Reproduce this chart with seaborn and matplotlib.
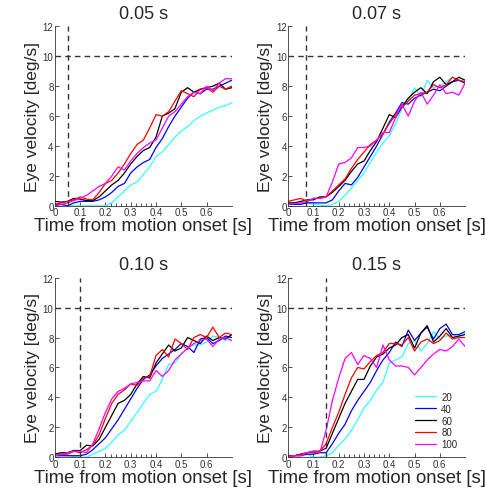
import numpy as np
import pandas as pd
import seaborn as sns
import matplotlib.pyplot as plt

# time grid [s]
t = [0, .025, .05, .075, .1, .125, .15, .175, .2, .225, .25, .275, .3, .325, .35,
     .375, .4, .425, .45, .475, .5, .525, .55, .575, .6, .625, .65, .675, .7]

contrasts = ['20', '40', '60', '80', '100']
delays = [0.05, 0.07, 0.10, 0.15]
titles = ['0.05 s', '0.07 s', '0.10 s', '0.15 s']

#Eye velocity traces, one list per contrast, per panel
p1_20 = [0, 0, 0, 0, 0, 0, 0, 0, 0, 0.2, 0.6, 1.0, 1.4, 1.6, 2.1, 2.6, 3.3, 3.6, 4.1, 4.6, 5.0, 5.3, 5.7, 6.0, 6.2, 6.4, 6.6, 6.7, 6.9]
p1_40 = [0.1, 0.1, 0.0, 0.2, 0.3, 0.3, 0.3, 0.4, 0.6, 0.9, 1.3, 1.5, 2.2, 2.6, 2.9, 3.1, 3.9, 4.5, 5.3, 6.0, 6.6, 7.2, 7.6, 7.5, 7.8, 7.8, 8.0, 8.2, 8.4]
p1_60 = [0.3, 0.25, 0.3, 0.5, 0.45, 0.35, 0.35, 0.6, 1.0, 1.4, 1.7, 2.2, 2.8, 3.3, 3.7, 3.9, 4.6, 6.0, 6.2, 6.5, 7.6, 7.9, 7.6, 7.8, 7.9, 8.0, 8.2, 7.8, 7.9]
p1_80 = [0.1, 0.2, 0.3, 0.4, 0.6, 0.45, 0.4, 0.9, 1.5, 1.7, 2.2, 2.8, 3.5, 4.1, 4.4, 5.2, 6.1, 6.0, 6.3, 7.0, 7.7, 7.5, 7.3, 7.8, 7.9, 7.6, 8.0, 7.8, 8.0]
p1_100 = [0.0, 0.1, 0.2, 0.35, 0.5, 0.7, 1.0, 1.3, 1.5, 2.0, 2.6, 2.4, 3.0, 3.5, 3.9, 4.2, 4.4, 5.2, 6.0, 6.3, 6.8, 7.3, 7.6, 7.5, 8.0, 7.7, 8.2, 8.5, 8.5]

p2_20 = [0.1, 0.15, 0.2, 0.2, 0.1, 0.05, 0.0, 0.1, 0.3, 0.7, 1.2, 1.7, 2.2, 2.9, 3.6, 4.2, 4.7, 5.5, 6.5, 7.0, 7.9, 7.3, 8.4, 7.9, 8.0, 8.3, 8.6, 8.4, 8.2]
p2_40 = [0.1, 0.1, 0.1, 0.2, 0.2, 0.2, 0.2, 0.4, 1.0, 1.5, 1.4, 1.9, 2.6, 3.3, 4.0, 4.8, 5.6, 6.2, 6.9, 6.8, 7.2, 7.4, 7.6, 7.8, 7.7, 8.0, 8.3, 8.4, 8.2]
p2_60 = [0.2, 0.2, 0.3, 0.4, 0.4, 0.6, 0.6, 0.9, 1.3, 1.7, 2.3, 2.8, 3.0, 3.7, 4.3, 5.2, 6.1, 5.9, 6.6, 7.2, 7.6, 7.9, 7.5, 8.3, 8.6, 8.1, 8.3, 8.6, 8.4]
p2_80 = [0.3, 0.4, 0.5, 0.3, 0.5, 0.5, 0.6, 1.0, 1.4, 1.8, 2.5, 3.1, 3.6, 4.1, 4.4, 4.8, 5.5, 6.1, 6.6, 7.0, 7.4, 7.5, 7.6, 8.1, 7.9, 8.1, 8.6, 8.4, 8.3]
p2_100 = [0.1, 0.15, 0.2, 0.3, 0.5, 0.5, 0.6, 1.6, 2.8, 2.9, 3.2, 3.9, 3.9, 4.0, 4.4, 4.9, 4.9, 5.9, 6.8, 6.0, 7.0, 7.6, 6.8, 7.4, 8.1, 7.5, 7.6, 7.4, 8.2]

p3_20 = [0.1, 0.1, 0.1, 0.05, 0.0, 0.0, 0.2, 0.4, 0.6, 1.0, 1.5, 1.8, 2.4, 3.0, 3.6, 4.2, 4.4, 5.2, 6.2, 6.3, 6.9, 7.3, 7.5, 7.5, 7.7, 8.1, 8.0, 7.8, 8.2]
p3_40 = [0.1, 0.1, 0.1, 0.1, 0.1, 0.2, 0.5, 0.9, 1.3, 1.9, 2.5, 3.2, 3.9, 4.6, 5.2, 5.5, 6.1, 6.6, 6.9, 7.2, 7.6, 7.4, 7.0, 7.9, 8.0, 7.6, 7.8, 8.1, 8.0]
p3_60 = [0.2, 0.3, 0.3, 0.45, 0.45, 0.8, 0.75, 1.2, 2.0, 2.8, 3.6, 3.8, 4.2, 4.9, 5.4, 5.3, 6.3, 6.9, 7.5, 7.1, 7.3, 8.0, 7.8, 7.6, 8.1, 7.8, 8.0, 7.9, 8.2]
p3_80 = [0.1, 0.2, 0.2, 0.4, 0.3, 0.5, 0.8, 1.5, 2.6, 3.6, 4.2, 4.5, 4.9, 4.8, 5.3, 5.4, 6.8, 7.2, 6.7, 7.9, 7.6, 7.2, 8.0, 8.2, 8.0, 8.7, 8.0, 8.3, 8.2]
p3_100 = [0.1, 0.2, 0.3, 0.4, 0.4, 0.3, 0.9, 1.9, 3.0, 3.9, 4.4, 4.6, 4.9, 5.0, 5.1, 5.1, 5.8, 5.4, 5.8, 6.5, 6.9, 7.3, 7.6, 7.8, 7.9, 7.4, 7.9, 8.0, 7.8]

p4_20 = [0.1, 0.1, 0.2, 0.2, 0.0, 0.0, 0.1, 0.3, 0.8, 1.2, 1.8, 2.5, 3.3, 3.8, 4.5, 5.0, 6.3, 6.5, 6.7, 7.6, 7.8, 7.1, 7.6, 8.4, 7.9, 8.1, 8.2, 8.0, 8.3]
p4_40 = [0.1, 0.1, 0.1, 0.2, 0.2, 0.3, 0.3, 0.9, 1.6, 2.2, 3.1, 3.8, 4.4, 5.0, 5.8, 6.5, 7.0, 7.7, 7.4, 8.5, 7.8, 8.3, 8.7, 7.9, 8.6, 8.9, 8.2, 8.2, 8.4]
p4_60 = [0.1, 0.1, 0.2, 0.3, 0.4, 0.4, 0.6, 1.6, 2.6, 3.6, 4.4, 5.2, 5.2, 6.1, 6.7, 6.9, 7.3, 7.5, 8.0, 8.2, 7.3, 8.3, 8.8, 7.7, 8.1, 8.6, 8.0, 8.1, 8.2]
p4_80 = [0.1, 0.1, 0.2, 0.3, 0.3, 0.4, 0.9, 2.0, 3.0, 4.2, 5.3, 6.0, 5.9, 6.4, 6.8, 7.0, 7.6, 7.6, 7.5, 8.0, 7.1, 7.7, 7.9, 7.6, 7.8, 8.3, 7.9, 8.0, 8.0]
p4_100 = [0.0, 0.1, 0.1, 0.3, 0.4, 0.3, 1.8, 3.8, 5.3, 6.6, 7.0, 6.2, 6.8, 6.6, 6.0, 7.5, 6.5, 6.1, 6.1, 6.0, 5.5, 6.0, 6.5, 6.9, 7.2, 7.1, 7.4, 7.9, 7.4]

panels = [
    [p1_20, p1_40, p1_60, p1_80, p1_100],
    [p2_20, p2_40, p2_60, p2_80, p2_100],
    [p3_20, p3_40, p3_60, p3_80, p3_100],
    [p4_20, p4_40, p4_60, p4_80, p4_100],
]

rows = []
for i, traces in enumerate(panels):
    for c, vals in zip(contrasts, traces):
        for tt, v in zip(t, vals):
            rows.append({'panel': i, 'time': tt, 'vel': v, 'contrast': c})
df = pd.DataFrame(rows)

palette = {'20': '#33ffff', '40': '#0000ff', '60': '#000000', '80': '#ff0000', '100': '#ff00ff'}

sns.set_style('ticks')
plt.rcParams['font.family'] = ['Liberation Sans', 'DejaVu Sans']

fig = plt.figure(figsize=(4.86, 4.89), dpi=100)
pos = [(0.113, 0.577), (0.593, 0.577), (0.113, 0.063), (0.593, 0.063)]

for i in range(4):
    ax = fig.add_axes([pos[i][0], pos[i][1], 0.364, 0.367])
    sns.lineplot(data=df[df.panel == i], x='time', y='vel', hue='contrast',
                 hue_order=contrasts, palette=palette, linewidth=0.9,
                 legend=(i == 3), ax=ax)
    ax.axhline(10, color='#333333', ls=(0, (4, 3)), lw=1)
    ax.axvline(delays[i], color='#333333', ls=(0, (4, 3)), lw=1)
    ax.set_xlim(0, 0.7)
    ax.set_ylim(0, 12)
    ax.set_xticks([0, 0.1, 0.2, 0.3, 0.4, 0.5, 0.6])
    ax.set_xticklabels(['0', '0.1', '0.2', '0.3', '0.4', '0.5', '0.6'])
    ax.set_xticks([0.22, 0.24, 0.26, 0.28, 0.32, 0.34, 0.36, 0.38], minor=True)
    ax.set_yticks([0, 2, 4, 6, 8, 10, 12])
    ax.tick_params(direction='in', length=3, width=0.6, labelsize=7, pad=1, colors='#333333')
    ax.tick_params(which='minor', direction='in', length=2, width=0.6, colors='#333333')
    for s in ['top', 'right']:
        ax.spines[s].set_visible(False)
    for s in ['left', 'bottom']:
        ax.spines[s].set_linewidth(0.6)
        ax.spines[s].set_color('#333333')
    ax.set_title(titles[i], fontsize=13, pad=6)
    ax.set_xlabel('Time from motion onset [s]', fontsize=13.3, labelpad=0)
    ax.set_ylabel('Eye velocity [deg/s]', fontsize=12.5, labelpad=2)
    if i == 3:
        leg = ax.legend(loc='lower right', frameon=False, fontsize=7,
                        handlelength=2.2, handletextpad=0.5, labelspacing=0.2,
                        borderaxespad=0.4)

plt.savefig('out.png', dpi=100)
